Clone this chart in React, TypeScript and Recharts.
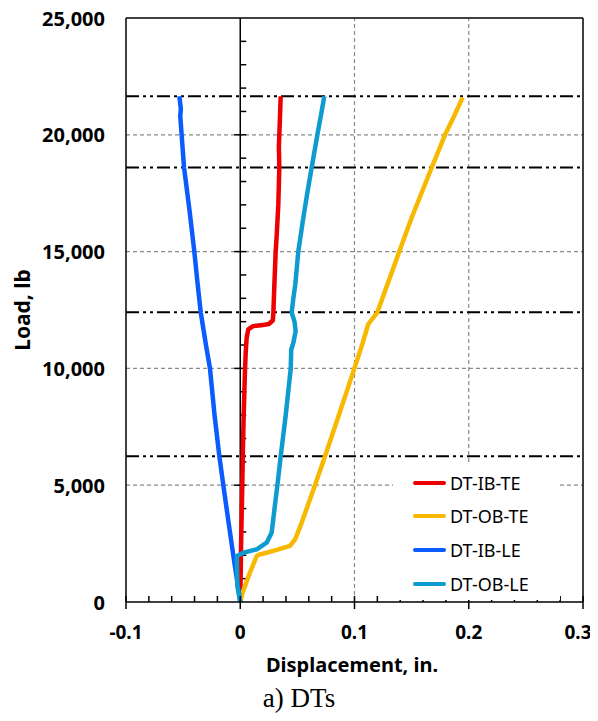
import React from "react";
import { Legend, Line, LineChart, ReferenceLine, XAxis, YAxis } from "recharts";

// axis ticks (minor + major)
const xTicks = [
  -0.1, -0.08, -0.06, -0.04, -0.02, 0, 0.02, 0.04, 0.06, 0.08, 0.1, 0.12, 0.14, 0.16, 0.18, 0.2,
  0.22, 0.24, 0.26, 0.28, 0.3,
];
const yTicks = [0, 5000, 10000, 15000, 20000, 25000];
const yZeroAxisTicks = [
  1000, 2000, 3000, 4000, 5000, 6000, 7000, 8000, 9000, 10000, 11000, 12000, 13000, 14000, 15000,
  16000, 17000, 18000, 19000, 20000, 21000, 22000, 23000, 24000,
];
const xDomain: [number, number] = [-0.1, 0.3];
const yDomain: [number, number] = [0, 25000];
const xGrid = [0.1, 0.2];
const yGrid = [5000, 10000, 15000, 20000];
// load stages (dash-dot lines)
const loadSteps = [6240, 12400, 18600, 21650];

// displacement (in.) vs load (lb)
const ibTe = [
  { x: 0, y: 0 }, { x: 0.0004, y: 1200 }, { x: 0.0007, y: 2400 }, { x: 0.0012, y: 3600 },
  { x: 0.0018, y: 5000 }, { x: 0.0022, y: 6240 }, { x: 0.003, y: 8000 }, { x: 0.0042, y: 10000 },
  { x: 0.0048, y: 10700 }, { x: 0.0056, y: 11300 }, { x: 0.007, y: 11670 }, { x: 0.0112, y: 11810 },
  { x: 0.02, y: 11860 }, { x: 0.025, y: 11900 }, { x: 0.0285, y: 12050 }, { x: 0.029, y: 12400 },
  { x: 0.0298, y: 13500 }, { x: 0.031, y: 15000 }, { x: 0.0318, y: 15600 }, { x: 0.0333, y: 17000 },
  { x: 0.0342, y: 18600 }, { x: 0.0338, y: 19500 }, { x: 0.0342, y: 20000 }, { x: 0.0348, y: 20800 },
  { x: 0.0354, y: 21650 },
];
const obTe = [
  { x: 0, y: 0 }, { x: 0.002, y: 400 }, { x: 0.0085, y: 1260 }, { x: 0.0144, y: 1970 },
  { x: 0.0173, y: 2040 }, { x: 0.0231, y: 2110 }, { x: 0.0319, y: 2230 }, { x: 0.0435, y: 2400 },
  { x: 0.048, y: 2680 }, { x: 0.0538, y: 3400 }, { x: 0.0654, y: 5000 }, { x: 0.0742, y: 6240 },
  { x: 0.087, y: 8100 }, { x: 0.0999, y: 10000 }, { x: 0.1068, y: 11030 }, { x: 0.112, y: 11890 },
  { x: 0.12, y: 12400 }, { x: 0.1392, y: 15000 }, { x: 0.15, y: 16450 }, { x: 0.1676, y: 18600 },
  { x: 0.1792, y: 20000 }, { x: 0.1865, y: 20730 }, { x: 0.1947, y: 21600 },
];
const ibLe = [
  { x: 0, y: 0 }, { x: -0.003, y: 1000 }, { x: -0.0061, y: 2000 }, { x: -0.0105, y: 3500 },
  { x: -0.0148, y: 5000 }, { x: -0.0183, y: 6240 }, { x: -0.0225, y: 8000 }, { x: -0.0265, y: 10000 },
  { x: -0.03, y: 11000 }, { x: -0.0346, y: 12400 }, { x: -0.0375, y: 13700 }, { x: -0.0402, y: 15000 },
  { x: -0.0445, y: 16800 }, { x: -0.0492, y: 18600 }, { x: -0.0513, y: 20000 }, { x: -0.0525, y: 20800 },
  { x: -0.052, y: 21100 }, { x: -0.0533, y: 21650 },
];
const obLe = [
  { x: 0, y: 0 }, { x: -0.0026, y: 700 }, { x: -0.0028, y: 1300 }, { x: -0.003, y: 1970 },
  { x: 0.0027, y: 2110 }, { x: 0.0144, y: 2255 }, { x: 0.0231, y: 2540 }, { x: 0.0275, y: 2970 },
  { x: 0.03, y: 4000 }, { x: 0.0325, y: 5000 }, { x: 0.0354, y: 6240 }, { x: 0.0398, y: 8000 },
  { x: 0.0442, y: 10000 }, { x: 0.0446, y: 10800 }, { x: 0.0465, y: 11100 }, { x: 0.0485, y: 11600 },
  { x: 0.0475, y: 12000 }, { x: 0.045, y: 12400 }, { x: 0.0465, y: 13000 }, { x: 0.0482, y: 13600 },
  { x: 0.0508, y: 15000 }, { x: 0.0552, y: 16450 }, { x: 0.059, y: 17600 }, { x: 0.0625, y: 18600 },
  { x: 0.0675, y: 20000 }, { x: 0.0705, y: 20800 }, { x: 0.0736, y: 21650 },
];

const series = [
  { name: "DT-IB-TE", data: ibTe, color: "#EC0000" },
  { name: "DT-OB-TE", data: obTe, color: "#F6B900" },
  { name: "DT-IB-LE", data: ibLe, color: "#0B5BFF" },
  { name: "DT-OB-LE", data: obLe, color: "#0E9BD0" },
];

const labelFont = { fontFamily: "'Noto Sans', sans-serif", fontWeight: 700, fontSize: 20 };

function XTick({ x, y, payload }: any) {
  const v = payload.value as number;
  const major = Math.abs(v * 10 - Math.round(v * 10)) < 1e-6;
  return (
    <g>
      <line x1={x} x2={x} y1={major ? y + 7 : y} y2={y - 6} stroke="#000" strokeWidth={1.5} />
      {major && (
        <text
          x={v === xDomain[1] ? x - 5 : x}
          y={y + 30}
          textAnchor="middle"
          dominantBaseline="central"
          fill="#000"
          {...labelFont}
          fontSize={19}
        >
          {v === 0 ? "0" : v.toFixed(1)}
        </text>
      )}
    </g>
  );
}

function YTick({ x, y, payload }: any) {
  return (
    <text x={x - 21} y={y} textAnchor="end" dominantBaseline="central" fill="#000" {...labelFont}>
      {(payload.value as number).toLocaleString("en-US")}
    </text>
  );
}

// vertical axis crossing at x = 0, with its own tick marks
function ZeroAxis(props: any) {
  const { x1, y1, y2 } = props;
  const top = Math.min(y1, y2);
  const bottom = Math.max(y1, y2);
  const toPx = (v: number) => bottom - ((bottom - top) * (v - yDomain[0])) / (yDomain[1] - yDomain[0]);
  return (
    <g>
      <line x1={x1} x2={x1} y1={top} y2={bottom} stroke="#000" strokeWidth={1.5} />
      {yZeroAxisTicks.map((v) => {
        const py = toPx(v);
        const major = v % 5000 === 0;
        return (
          <line key={v} x1={major ? x1 - 6 : x1} x2={x1 + 6} y1={py} y2={py} stroke="#000" strokeWidth={1.5} />
        );
      })}
    </g>
  );
}

// legend keeps the series order (recharts would sort it by name)
function LegendBox() {
  return (
    <div style={{ paddingTop: 4 }}>
      {series.map((s) => (
        <div key={s.name} style={{ display: "flex", alignItems: "center", height: 33.6, paddingLeft: 20 }}>
          <span style={{ display: "inline-block", width: 33, height: 4, background: s.color, borderRadius: 2 }} />
          <span
            style={{
              marginLeft: 4,
              fontFamily: "'Noto Sans', sans-serif",
              fontSize: 18,
              color: "#000",
              lineHeight: 1,
            }}
          >
            {s.name}
          </span>
        </div>
      ))}
    </div>
  );
}

export default function App() {
  return (
    <div style={{ margin: -8, width: 598, height: 721, position: "relative", background: "#fff" }}>
      <LineChart width={598} height={721} margin={{ top: 18, right: 15, bottom: 0, left: 0 }}>
        <XAxis
          type="number"
          dataKey="x"
          domain={xDomain}
          ticks={xTicks}
          interval={0}
          height={119}
          tickSize={0}
          tickMargin={0}
          tick={<XTick />}
          axisLine={{ stroke: "#000", strokeWidth: 1.5 }}
          tickLine={false}
          allowDataOverflow
        />
        <YAxis
          type="number"
          dataKey="y"
          domain={yDomain}
          ticks={yTicks}
          interval={0}
          width={126}
          tickSize={0}
          tickMargin={0}
          tick={<YTick />}
          axisLine={{ stroke: "#000", strokeWidth: 1.5 }}
          tickLine={false}
          allowDataOverflow
        />
        {yGrid.map((v) => (
          <ReferenceLine key={`gy${v}`} y={v} stroke="#8a8a8a" strokeWidth={1.2} strokeDasharray="4 3" />
        ))}
        {xGrid.map((v) => (
          <ReferenceLine key={`gx${v}`} x={v} stroke="#8a8a8a" strokeWidth={1.2} strokeDasharray="4 3" />
        ))}
        {loadSteps.map((v) => (
          <ReferenceLine key={`ls${v}`} y={v} stroke="#000" strokeWidth={2} strokeDasharray="13 4 3 4 3 4" />
        ))}
        <ReferenceLine x={0} shape={<ZeroAxis />} />
        <ReferenceLine y={yDomain[1]} stroke="#000" strokeWidth={1.5} />
        <ReferenceLine x={xDomain[1]} stroke="#000" strokeWidth={1.5} />
        {series.map((s) => (
          <Line
            key={s.name}
            name={s.name}
            data={s.data}
            dataKey="y"
            type="linear"
            stroke={s.color}
            strokeWidth={4.5}
            strokeLinejoin="round"
            dot={false}
            activeDot={false}
            isAnimationActive={false}
          />
        ))}
        <Legend
          layout="vertical"
          align="center"
          verticalAlign="middle"
          content={<LegendBox />}
          wrapperStyle={{ left: 393, top: 462, width: 167, height: 138, background: "#fff" }}
        />
      </LineChart>
      <div
        style={{
          position: "absolute",
          left: 22,
          top: 310,
          transform: "translate(-50%, -50%) rotate(-90deg)",
          whiteSpace: "nowrap",
          ...labelFont,
          fontSize: 21,
        }}
      >
        Load, lb
      </div>
      <div
        style={{
          position: "absolute",
          left: 352,
          top: 664,
          transform: "translate(-50%, -50%)",
          whiteSpace: "nowrap",
          ...labelFont,
        }}
      >
        Displacement, in.
      </div>
      <div
        style={{
          position: "absolute",
          left: 299,
          top: 698,
          transform: "translate(-50%, -50%)",
          whiteSpace: "nowrap",
          fontFamily: "'Liberation Serif', serif",
          fontSize: 27,
        }}
      >
        a) DTs
      </div>
    </div>
  );
}
